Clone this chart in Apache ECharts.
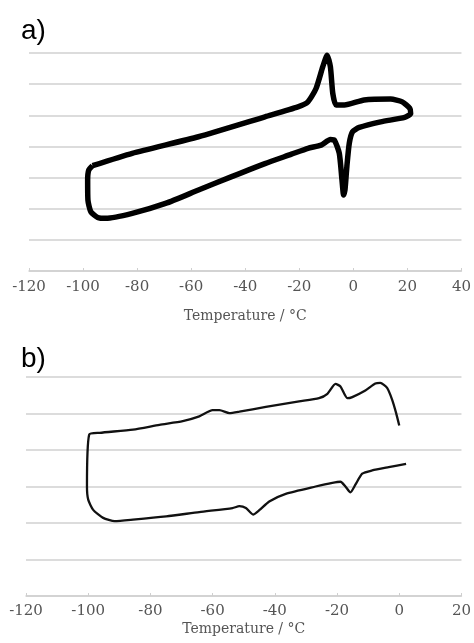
<!DOCTYPE html>
<html>
<head>
  <meta charset="utf-8">
</head>
<body style="margin: 0; background: #fff">
  <div id="container" style="width: 474px; height: 643px"></div>
  <script src="https://cdn.jsdelivr.net/npm/echarts@6/dist/echarts.min.js"></script>
  <script>
    // panel a: closed loop, temperature (°C) vs signal (arbitrary units)
    var tempA = [-96.5, -81.8, -57.3, -32.7, -20.5, -16.8, -13.8, -11.3, -9.7, -8.5, -7.6, -6.4, -3.3, 4.0, 13.8, 18.1, 20.9, 21.2, 19.0, 10.1, 2.2, -0.3, -1.5, -2.4, -3.1, -3.6, -4.2, -5.2, -7.0, -8.5, -11.9, -16.8, -22.9, -32.7, -45.0, -57.3, -69.5, -81.8, -91.6, -94.6, -97.1, -98.2, -98.3, -97.9, -96.5];
    var signalA = [3.38, 3.78, 4.31, 4.95, 5.27, 5.43, 5.86, 6.56, 6.93, 6.56, 5.70, 5.33, 5.33, 5.49, 5.52, 5.43, 5.22, 5.06, 4.93, 4.79, 4.61, 4.47, 4.10, 3.35, 2.60, 2.44, 2.92, 3.78, 4.20, 4.22, 4.04, 3.94, 3.75, 3.45, 3.03, 2.60, 2.17, 1.85, 1.69, 1.72, 1.90, 2.28, 2.92, 3.24, 3.38];

    // panel b: open curve, starts at the upper right end
    var tempB = [0.0, -1.0, -2.3, -3.9, -6.1, -7.7, -10.9, -15.1, -16.7, -18.9, -20.5, -23.1, -25.8, -32.2, -42.9, -51.4, -54.6, -57.8, -60.0, -64.3, -69.6, -77.1, -85.6, -96.3, -99.7, -100.4, -100.0, -98.4, -95.2, -91.5, -85.6, -74.9, -64.3, -53.6, -51.4, -49.3, -47.0, -45.0, -41.8, -36.5, -26.9, -21.5, -18.9, -17.3, -15.7, -14.1, -11.9, -8.7, -3.4, 2.2];
    var signalB = [4.67, 5.01, 5.38, 5.70, 5.84, 5.82, 5.63, 5.45, 5.42, 5.74, 5.81, 5.54, 5.42, 5.33, 5.18, 5.05, 5.01, 5.09, 5.09, 4.92, 4.79, 4.69, 4.56, 4.47, 4.42, 3.00, 2.64, 2.36, 2.14, 2.05, 2.09, 2.18, 2.30, 2.41, 2.46, 2.41, 2.23, 2.35, 2.59, 2.80, 3.00, 3.10, 3.13, 3.00, 2.84, 3.05, 3.35, 3.44, 3.53, 3.62];

    var axisTitle = 'Temperature / °C';
    var panelLabels = ['a)', 'b)'];

    function pairs(xs, ys) {
      return xs.map(function (x, i) { return [x, ys[i]]; });
    }

    var labelFont = { fontFamily: 'DejaVu Serif', fontSize: 15, color: '#555' };

    function xAxisFor(gridIndex, min, max, labelMargin, nameGap) {
      return {
        type: 'value', gridIndex: gridIndex, min: min, max: max, interval: 20,
        axisLine: { show: true, lineStyle: { color: '#cfcfcf', width: 1.5 } },
        axisTick: { show: true, inside: true, length: 3, lineStyle: { color: '#cfcfcf' } },
        splitLine: { show: false },
        axisLabel: Object.assign({ margin: labelMargin }, labelFont),
        name: axisTitle, nameLocation: 'middle', nameGap: nameGap,
        nameTextStyle: { fontFamily: 'DejaVu Serif', fontSize: 14, color: '#555' }
      };
    }

    function yAxisFor(gridIndex, max) {
      return {
        type: 'value', gridIndex: gridIndex, min: 0, max: max, interval: 1,
        axisLine: { show: false }, axisTick: { show: false }, axisLabel: { show: false },
        splitLine: { lineStyle: { color: '#dcdcdc', width: 1.8 } }
      };
    }

    var myChart = echarts.init(document.getElementById('container'), null, { renderer: 'canvas' });

    var option = {
      animation: false,
      backgroundColor: '#fff',
      title: [
        { text: panelLabels[0], left: 16, top: 12, textStyle: { fontFamily: 'Liberation Sans', fontSize: 28, fontWeight: 'normal', color: '#000' } },
        { text: panelLabels[1], left: 16, top: 340, textStyle: { fontFamily: 'Liberation Sans', fontSize: 28, fontWeight: 'normal', color: '#000' } }
      ],
      grid: [
        { left: 29, right: 10, top: 53, height: 218 },
        { left: 26, right: 11, top: 377, height: 219 }
      ],
      xAxis: [
        xAxisFor(0, -120, 40, 9, 38),
        xAxisFor(1, -120, 20, 8, 26)
      ],
      yAxis: [
        yAxisFor(0, 7),
        yAxisFor(1, 6)
      ],
      series: [
        {
          type: 'line', xAxisIndex: 0, yAxisIndex: 0,
          data: pairs(tempA, signalA),
          showSymbol: false, smooth: 0.2,
          lineStyle: { color: '#000', width: 5.5 }
        },
        {
          type: 'line', xAxisIndex: 1, yAxisIndex: 1,
          data: pairs(tempB, signalB),
          showSymbol: false, smooth: 0.2,
          lineStyle: { color: '#111', width: 2.3 }
        }
      ]
    };

    myChart.setOption(option);
    window.addEventListener('resize', myChart.resize);
  </script>
</body>
</html>
